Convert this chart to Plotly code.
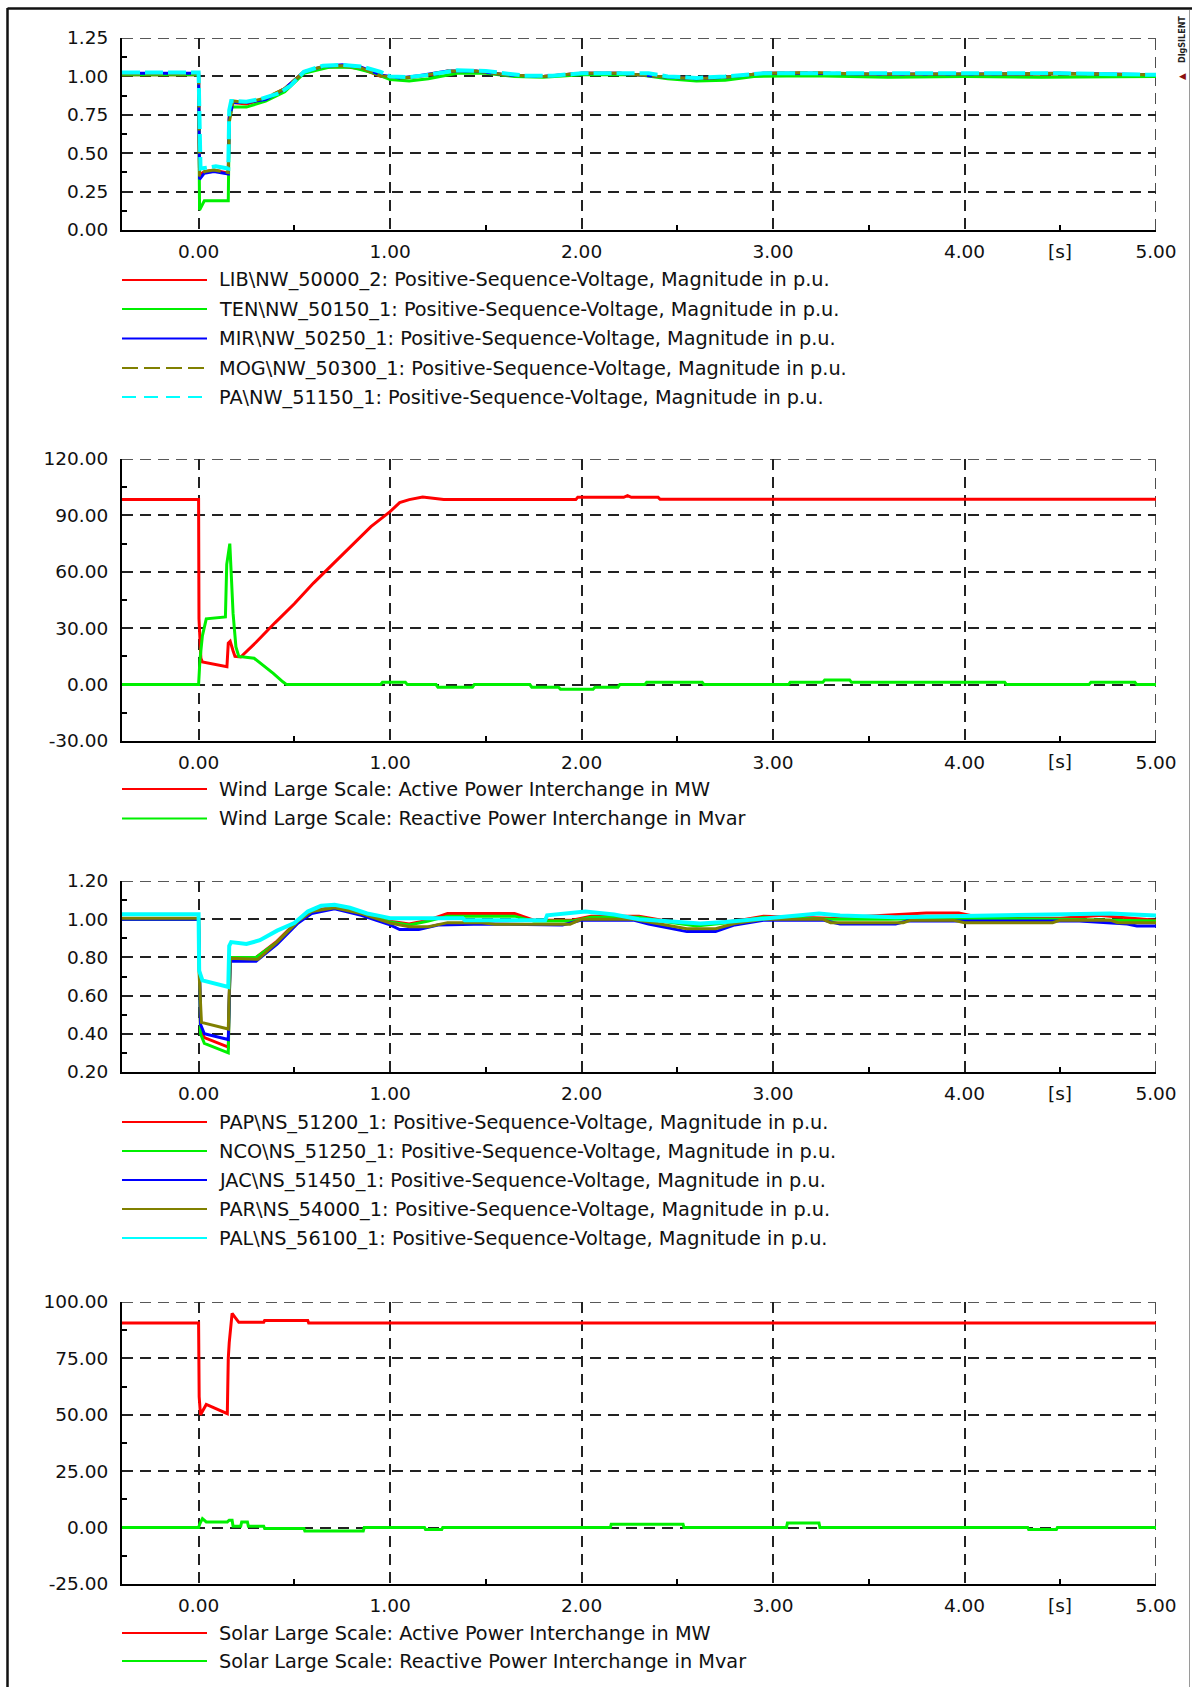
import plotly.graph_objects as go

W, H = 1192, 1687

# ---------------- Panel 1: NW bus voltages (p.u.) ----------------
P1_T_LIB = [-0.4, 0.0, 0.005, 0.03, 0.08, 0.155, 0.16, 0.175, 0.25, 0.35, 0.45, 0.55, 0.65, 0.75, 0.85, 0.95,
            1.05, 1.15, 1.3, 1.45, 1.6, 1.8, 2.0, 2.2, 2.4, 2.6, 2.75, 2.95, 3.2, 3.5, 4.0, 4.5, 5.0]
P1_V_LIB = [1.01, 1.01, 0.36, 0.38, 0.39, 0.37, 0.75, 0.83, 0.82, 0.855, 0.92, 1.03, 1.06, 1.065, 1.05, 1.0,
            0.985, 1.0, 1.03, 1.03, 1.01, 1.0, 1.02, 1.02, 1.0, 0.985, 0.995, 1.02, 1.02, 1.01, 1.01, 1.015, 1.01]
P1_T_TEN = [-0.4, 0.0, 0.005, 0.03, 0.155, 0.16, 0.175, 0.25, 0.35, 0.45, 0.55, 0.68, 0.8, 0.92, 1.0, 1.1, 1.2,
            1.35, 1.5, 1.65, 1.8, 2.0, 2.3, 2.45, 2.6, 2.75, 2.9, 3.2, 3.6, 4.0, 4.4, 4.8, 5.0]
P1_V_TEN = [1.01, 1.01, 0.13, 0.19, 0.19, 0.72, 0.80, 0.80, 0.84, 0.90, 1.02, 1.06, 1.06, 1.02, 0.98, 0.97, 0.985,
            1.02, 1.02, 1.0, 0.995, 1.01, 1.01, 0.985, 0.97, 0.975, 1.0, 1.005, 0.995, 1.0, 0.995, 1.0, 1.0]
P1_T_MIR = [-0.4, 0.0, 0.005, 0.03, 0.08, 0.155, 0.16, 0.18, 0.25, 0.35, 0.45, 0.55, 0.65, 0.75, 0.85, 0.95,
            1.05, 1.15, 1.3, 1.45, 1.6, 1.8, 2.0, 2.2, 2.4, 2.6, 2.75, 2.95, 3.2, 3.5, 4.0, 4.5, 5.0]
P1_V_MIR = [1.02, 1.02, 0.33, 0.37, 0.38, 0.365, 0.73, 0.83, 0.83, 0.85, 0.92, 1.03, 1.065, 1.075, 1.06, 1.01,
            0.99, 1.005, 1.035, 1.035, 1.01, 1.0, 1.02, 1.02, 1.0, 0.985, 0.995, 1.02, 1.02, 1.015, 1.015, 1.02, 1.01]
P1_T_MOG = [-0.4, 0.0, 0.005, 0.03, 0.08, 0.155, 0.16, 0.18, 0.25, 0.35, 0.45, 0.55, 0.65, 0.75, 0.85, 0.95,
            1.05, 1.15, 1.3, 1.45, 1.6, 1.8, 2.0, 2.2, 2.4, 2.6, 2.75, 2.95, 3.2, 3.5, 4.0, 4.5, 5.0]
P1_V_MOG = [1.015, 1.015, 0.35, 0.38, 0.39, 0.375, 0.7, 0.84, 0.83, 0.86, 0.92, 1.03, 1.065, 1.07, 1.055, 1.005,
            0.99, 1.0, 1.035, 1.035, 1.01, 1.0, 1.02, 1.02, 1.0, 0.985, 0.995, 1.02, 1.025, 1.015, 1.015, 1.02, 1.01]
P1_T_PA = [-0.4, 0.0, 0.01, 0.05, 0.09, 0.155, 0.16, 0.17, 0.25, 0.33, 0.42, 0.48, 0.55, 0.65, 0.75, 0.85, 0.95,
           1.0, 1.1, 1.2, 1.35, 1.5, 1.7, 1.85, 2.0, 2.35, 2.45, 2.6, 2.75, 2.95, 3.5, 4.0, 4.5, 5.0]
P1_V_PA = [1.025, 1.025, 0.40, 0.41, 0.415, 0.40, 0.78, 0.84, 0.835, 0.855, 0.89, 0.94, 1.03, 1.07, 1.075, 1.065, 1.03,
           1.0, 0.995, 1.01, 1.04, 1.035, 1.005, 1.005, 1.02, 1.02, 1.0, 0.99, 1.0, 1.02, 1.02, 1.015, 1.02, 1.01]

# ---------------- Panel 2: Wind Large Scale P / Q ----------------
P2_T_P = [-0.4, 0.0, 0.002, 0.012, 0.02, 0.14, 0.148, 0.155, 0.165, 0.18, 0.19, 0.22, 0.3, 0.4, 0.5, 0.6, 0.7,
          0.8, 0.9, 0.95, 1.0, 1.05, 1.1, 1.17, 1.28, 1.97, 1.98, 2.22, 2.24, 2.26, 2.4, 2.41, 5.0]
P2_V_P = [98.4, 98.4, 35.0, 14.0, 12.0, 10.0, 9.5, 22.0, 23.0, 18.0, 15.0, 14.7, 22.5, 33.0, 43.0, 54.0, 64.0,
          74.0, 84.0, 88.0, 92.0, 96.8, 98.4, 99.8, 98.4, 98.4, 99.6, 99.6, 100.5, 99.6, 99.6, 98.6, 98.6]
P2_T_Q = [-0.4, 0.0, 0.007, 0.02, 0.04, 0.14, 0.147, 0.163, 0.17, 0.18, 0.195, 0.21, 0.29, 0.34, 0.39, 0.44, 0.46,
          0.95, 0.96, 1.08, 1.09, 1.24, 1.25, 1.43, 1.44, 1.73, 1.74, 1.88, 1.89, 2.06, 2.07, 2.19, 2.2, 2.33, 2.34,
          2.63, 2.64, 3.08, 3.09, 3.26, 3.27, 3.4, 3.41, 4.21, 4.22, 4.65, 4.66, 4.89, 4.9, 5.0]
P2_V_Q = [0.0, 0.0, 13.0, 26.0, 35.0, 36.0, 64.0, 75.0, 60.0, 38.0, 20.0, 15.0, 14.0, 10.0, 6.0, 1.5, 0.0,
          0.0, 1.2, 1.2, 0.0, 0.0, -1.4, -1.4, 0.0, 0.0, -1.4, -1.4, -2.5, -2.5, -1.4, -1.4, 0.0, 0.0, 1.2,
          1.2, 0.0, 0.0, 1.2, 1.2, 2.5, 2.5, 1.2, 1.2, 0.0, 0.0, 1.2, 1.2, 0.0, 0.0]

# ---------------- Panel 3: NS bus voltages (p.u.) ----------------
P3_T_PAP = [-0.4, 0.0, 0.01, 0.03, 0.155, 0.165, 0.3, 0.41, 0.52, 0.6, 0.71, 0.85, 1.0, 1.1, 1.2, 1.3, 1.65, 1.75,
            1.95, 2.05, 2.3, 2.45, 2.6, 2.8, 2.95, 3.3, 3.8, 3.97, 4.1, 4.5, 4.7, 5.0]
P3_V_PAP = [1.0, 1.0, 0.42, 0.38, 0.33, 0.80, 0.80, 0.885, 0.995, 1.045, 1.065, 1.035, 0.99, 0.975, 0.995, 1.03,
            1.03, 0.995, 0.995, 1.015, 1.015, 0.99, 0.97, 0.99, 1.015, 1.005, 1.033, 1.033, 1.005, 1.005, 1.02, 0.995]
P3_T_NCO = [-0.4, 0.0, 0.01, 0.03, 0.155, 0.165, 0.3, 0.41, 0.52, 0.6, 0.71, 0.85, 1.0, 1.1, 1.2, 1.3, 1.65, 1.75,
            1.95, 2.05, 2.3, 2.45, 2.6, 2.8, 2.95, 3.3, 3.6, 4.0, 4.5, 5.0]
P3_V_NCO = [1.0, 1.0, 0.40, 0.35, 0.30, 0.80, 0.80, 0.88, 0.99, 1.04, 1.06, 1.03, 0.985, 0.97, 0.99, 1.016,
            1.016, 0.99, 0.99, 1.01, 1.01, 0.985, 0.965, 0.985, 1.01, 1.0, 1.0, 1.005, 1.0, 0.99]
P3_T_JAC = [-0.4, 0.0, 0.01, 0.03, 0.155, 0.165, 0.3, 0.41, 0.52, 0.59, 0.71, 0.85, 1.0, 1.05, 1.15, 1.25, 1.5,
            1.9, 2.0, 2.27, 2.35, 2.55, 2.7, 2.8, 2.95, 3.26, 3.35, 3.64, 3.7, 4.6, 4.85, 4.9, 5.0]
P3_V_JAC = [1.0, 1.0, 0.45, 0.40, 0.37, 0.78, 0.78, 0.87, 0.98, 1.03, 1.055, 1.02, 0.97, 0.946, 0.946, 0.97, 0.975,
            0.97, 0.995, 0.995, 0.975, 0.935, 0.935, 0.97, 0.995, 0.995, 0.975, 0.975, 0.99, 0.99, 0.975, 0.965, 0.965]
P3_T_PAR = [-0.4, 0.0, 0.002, 0.015, 0.155, 0.165, 0.31, 0.41, 0.52, 0.59, 0.71, 0.85, 1.0, 1.1, 1.2, 1.3, 1.48,
            1.55, 1.94, 2.0, 2.27, 2.35, 2.55, 2.7, 2.8, 2.95, 3.26, 3.3, 3.68, 3.72, 3.94, 4.0, 4.46, 4.5, 4.76,
            4.8, 5.0]
P3_V_PAR = [1.005, 1.005, 0.73, 0.46, 0.425, 0.795, 0.79, 0.88, 0.99, 1.04, 1.06, 1.03, 0.98, 0.96, 0.96, 0.982,
            0.982, 0.974, 0.974, 1.0, 1.0, 0.986, 0.95, 0.95, 0.977, 1.0, 1.0, 0.982, 0.982, 0.995, 0.995, 0.982,
            0.982, 0.995, 0.995, 0.982, 0.982]
P3_T_PAL = [-0.4, 0.0, 0.003, 0.02, 0.155, 0.16, 0.17, 0.25, 0.32, 0.41, 0.5, 0.57, 0.64, 0.71, 0.79, 0.88, 0.95,
            1.0, 1.38, 1.39, 1.81, 1.82, 2.02, 2.17, 2.3, 2.5, 2.62, 2.75, 2.9, 3.24, 3.35, 3.64, 4.45, 4.76, 5.0]
P3_V_PAL = [1.026, 1.026, 0.73, 0.68, 0.645, 0.86, 0.88, 0.87, 0.89, 0.94, 0.98, 1.04, 1.07, 1.075, 1.06, 1.03,
            1.016, 1.005, 1.005, 0.995, 0.995, 1.02, 1.04, 1.025, 1.0, 0.985, 0.977, 0.985, 1.0, 1.03, 1.02, 1.01,
            1.025, 1.03, 1.02]

# ---------------- Panel 4: Solar Large Scale P / Q ----------------
P4_T_P = [-0.4, 0.0, 0.003, 0.01, 0.04, 0.14, 0.15, 0.155, 0.16, 0.175, 0.185, 0.21, 0.34, 0.345, 0.57, 0.575, 5.0]
P4_V_P = [90.7, 90.7, 58.0, 50.0, 54.6, 51.0, 50.5, 75.0, 82.0, 95.0, 94.0, 91.0, 91.0, 91.8, 91.8, 90.7, 90.7]
P4_T_Q = [-0.4, 0.0, 0.007, 0.02, 0.04, 0.15, 0.16, 0.175, 0.18, 0.22, 0.225, 0.255, 0.26, 0.34, 0.345, 0.55,
          0.555, 0.86, 0.865, 1.18, 1.185, 1.27, 1.275, 2.15, 2.155, 2.53, 2.535, 3.07, 3.075, 3.24, 3.245, 4.33,
          4.335, 4.48, 4.485, 5.0]
P4_V_Q = [0.0, 0.0, 1.8, 4.0, 2.5, 2.5, 3.3, 3.3, 0.6, 0.6, 2.5, 2.5, 0.6, 0.6, -0.4, -0.4,
          -1.5, -1.5, 0.0, 0.0, -0.8, -0.8, 0.0, 0.0, 1.5, 1.5, 0.0, 0.0, 2.0, 2.0, 0.0, 0.0,
          -0.8, -0.8, 0.0, 0.0]

# ---------------- Labels / axes ----------------
X_TICKS = [0, 1, 2, 3, 4, 5]
X_MINOR = [0.5, 1.5, 2.5, 3.5, 4.5]
X_RANGE = [-0.4, 5.0]
Y1_TICKS = [0.0, 0.25, 0.5, 0.75, 1.0, 1.25]
Y2_TICKS = [-30, 0, 30, 60, 90, 120]
Y3_TICKS = [0.2, 0.4, 0.6, 0.8, 1.0, 1.2]
Y4_TICKS = [-25, 0, 25, 50, 75, 100]

NAMES_1 = ["LIB\\NW_50000_2: Positive-Sequence-Voltage, Magnitude in p.u.",
           "TEN\\NW_50150_1: Positive-Sequence-Voltage, Magnitude in p.u.",
           "MIR\\NW_50250_1: Positive-Sequence-Voltage, Magnitude in p.u.",
           "MOG\\NW_50300_1: Positive-Sequence-Voltage, Magnitude in p.u.",
           "PA\\NW_51150_1: Positive-Sequence-Voltage, Magnitude in p.u."]
NAMES_2 = ["Wind Large Scale: Active Power Interchange in MW",
           "Wind Large Scale: Reactive Power Interchange in Mvar"]
NAMES_3 = ["PAP\\NS_51200_1: Positive-Sequence-Voltage, Magnitude in p.u.",
           "NCO\\NS_51250_1: Positive-Sequence-Voltage, Magnitude in p.u.",
           "JAC\\NS_51450_1: Positive-Sequence-Voltage, Magnitude in p.u.",
           "PAR\\NS_54000_1: Positive-Sequence-Voltage, Magnitude in p.u.",
           "PAL\\NS_56100_1: Positive-Sequence-Voltage, Magnitude in p.u."]
NAMES_4 = ["Solar Large Scale: Active Power Interchange in MW",
           "Solar Large Scale: Reactive Power Interchange in Mvar"]

RED, GREEN, BLUE, OLIVE, CYAN = "#ff0000", "#00f000", "#0000ff", "#808000", "#00ffff"
DASHED = "18px,5px"

# ---------------- helpers ----------------
def px(x):
    return x / W

def py(y):
    return 1 - y / H

X_DOM = [px(122), px(1156)]
PANELS = [(38, 230), (459, 741), (881, 1072), (1302, 1584)]  # (top px, bottom px)

TICKFONT = dict(family="DejaVu Sans", size=18.5, color="#111111")
LEGFONT = dict(family="DejaVu Sans", size=19.3, color="#111111")
GRIDDASH = "11px,7px"
GRIDCOL = "#222222"

def fmt(v):
    return f"{v:.2f}"

fig = go.Figure()

series = [
    (1, [(P1_T_LIB, P1_V_LIB, RED, "solid", 3), (P1_T_TEN, P1_V_TEN, GREEN, "solid", 3),
         (P1_T_MIR, P1_V_MIR, BLUE, "solid", 3), (P1_T_MOG, P1_V_MOG, OLIVE, DASHED, 3),
         (P1_T_PA, P1_V_PA, CYAN, DASHED, 4)], NAMES_1),
    (2, [(P2_T_P, P2_V_P, RED, "solid", 3), (P2_T_Q, P2_V_Q, GREEN, "solid", 3)], NAMES_2),
    (3, [(P3_T_PAP, P3_V_PAP, RED, "solid", 3), (P3_T_NCO, P3_V_NCO, GREEN, "solid", 3),
         (P3_T_JAC, P3_V_JAC, BLUE, "solid", 3), (P3_T_PAR, P3_V_PAR, OLIVE, "solid", 3),
         (P3_T_PAL, P3_V_PAL, CYAN, "solid", 4)], NAMES_3),
    (4, [(P4_T_P, P4_V_P, RED, "solid", 3), (P4_T_Q, P4_V_Q, GREEN, "solid", 3)], NAMES_4),
]

LEGEND_ROWS = {1: [280, 309, 338.5, 368, 397], 2: [789, 818.5], 3: [1122, 1151, 1180, 1209, 1238], 4: [1633, 1661]}

for idx, lines, names in series:
    suffix = "" if idx == 1 else str(idx)
    for (t, v, col, dash, wd), nm in zip(lines, names):
        fig.add_trace(go.Scatter(x=t, y=v, mode="lines", name=nm, showlegend=False,
                                 line=dict(color=col, width=wd, dash=dash, shape="linear"),
                                 xaxis="x" + suffix, yaxis="y" + suffix, hoverinfo="skip"))
    # manual legend (long line samples as in the original)
    for (t, v, col, dash, wd), nm, ry in zip(lines, names, LEGEND_ROWS[idx]):
        ldash = "solid" if dash == "solid" else ("16px,6px" if col == OLIVE else "14px,8px")
        fig.add_shape(type="line", xref="paper", yref="paper", x0=px(122), x1=px(207), y0=py(ry), y1=py(ry),
                      line=dict(color=col, width=2, dash=ldash))
        fig.add_annotation(text=nm, xref="paper", yref="paper", x=px(217), y=py(ry), xanchor="left",
                           yanchor="middle", showarrow=False, font=LEGFONT)

Y_SPECS = {1: (Y1_TICKS, [0, 1.25]), 2: (Y2_TICKS, [-30, 120]), 3: (Y3_TICKS, [0.2, 1.2]), 4: (Y4_TICKS, [-25, 100])}

layout = dict(width=W, height=H, autosize=False, margin=dict(l=0, r=0, t=0, b=0, autoexpand=False),
              paper_bgcolor="white", plot_bgcolor="white", showlegend=False)

for idx, (top, bot) in enumerate(PANELS, start=1):
    suffix = "" if idx == 1 else str(idx)
    yt, yr = Y_SPECS[idx]
    step = yt[1] - yt[0]
    ymin = [yt[i] + step / 2 for i in range(len(yt) - 1)]
    layout["xaxis" + suffix] = dict(
        domain=X_DOM, anchor="y" + suffix, range=X_RANGE, tickmode="array", tickvals=X_TICKS,
        ticktext=[fmt(v) for v in X_TICKS], ticks="", showgrid=True, gridcolor=GRIDCOL, gridwidth=1.6,
        griddash=GRIDDASH, zeroline=False, showline=True, linecolor="#000000", linewidth=2,
        tickfont=TICKFONT, ticklabelstandoff=4,
        minor=dict(tickmode="array", tickvals=X_MINOR, ticks="inside", ticklen=5, tickwidth=1.5,
                   tickcolor="#000000", showgrid=False))
    layout["yaxis" + suffix] = dict(
        domain=[py(bot), py(top)], anchor="x" + suffix, range=yr, tickmode="array", tickvals=yt,
        ticktext=[fmt(v) for v in yt], ticks="", showgrid=True, gridcolor=GRIDCOL, gridwidth=1.6,
        griddash=GRIDDASH, zeroline=False, showline=True, linecolor="#000000", linewidth=2,
        tickfont=TICKFONT, ticklabelstandoff=8,
        minor=dict(tickmode="array", tickvals=ymin, ticks="inside", ticklen=5, tickwidth=1.5,
                   tickcolor="#000000", showgrid=False))
    # dashed grid lines on the top and right edges of the plot frame
    fig.add_shape(type="line", xref="x" + suffix, yref="y" + suffix, x0=X_RANGE[0], x1=X_RANGE[1],
                  y0=yr[1], y1=yr[1], layer="below", line=dict(color=GRIDCOL, width=1.6, dash=GRIDDASH))
    fig.add_shape(type="line", xref="x" + suffix, yref="y" + suffix, x0=X_RANGE[1], x1=X_RANGE[1],
                  y0=yr[0], y1=yr[1], layer="below", line=dict(color=GRIDCOL, width=1.6, dash=GRIDDASH))
    # unit label on x axis
    fig.add_annotation(text="[s]", xref="x" + suffix, yref="paper", x=4.5, y=py(bot + 21),
                       xanchor="center", yanchor="middle", showarrow=False, font=TICKFONT)

fig.update_layout(**layout)

# outer frame
fig.add_shape(type="line", xref="paper", yref="paper", x0=px(7.5), x1=px(7.5), y0=0, y1=py(8),
              line=dict(color="#111111", width=2.5))
fig.add_shape(type="line", xref="paper", yref="paper", x0=px(7.5), x1=1, y0=py(8.5), y1=py(8.5),
              line=dict(color="#111111", width=2.5))
fig.add_shape(type="line", xref="paper", yref="paper", x0=px(1189.5), x1=px(1189.5), y0=0, y1=py(10),
              line=dict(color="#9a9a9a", width=1))
# logo
fig.add_annotation(text="<b>DIgSILENT</b>", xref="paper", yref="paper", x=px(1182), y=py(40),
                   xanchor="center", yanchor="middle", textangle=-90, showarrow=False,
                   font=dict(family="DejaVu Sans", size=8, color="#222222"))
fig.add_annotation(text="◀", xref="paper", yref="paper", x=px(1182), y=py(76),
                   xanchor="center", yanchor="middle", showarrow=False,
                   font=dict(family="DejaVu Sans", size=9, color="#8b1010"))

fig.write_html("out.html")
